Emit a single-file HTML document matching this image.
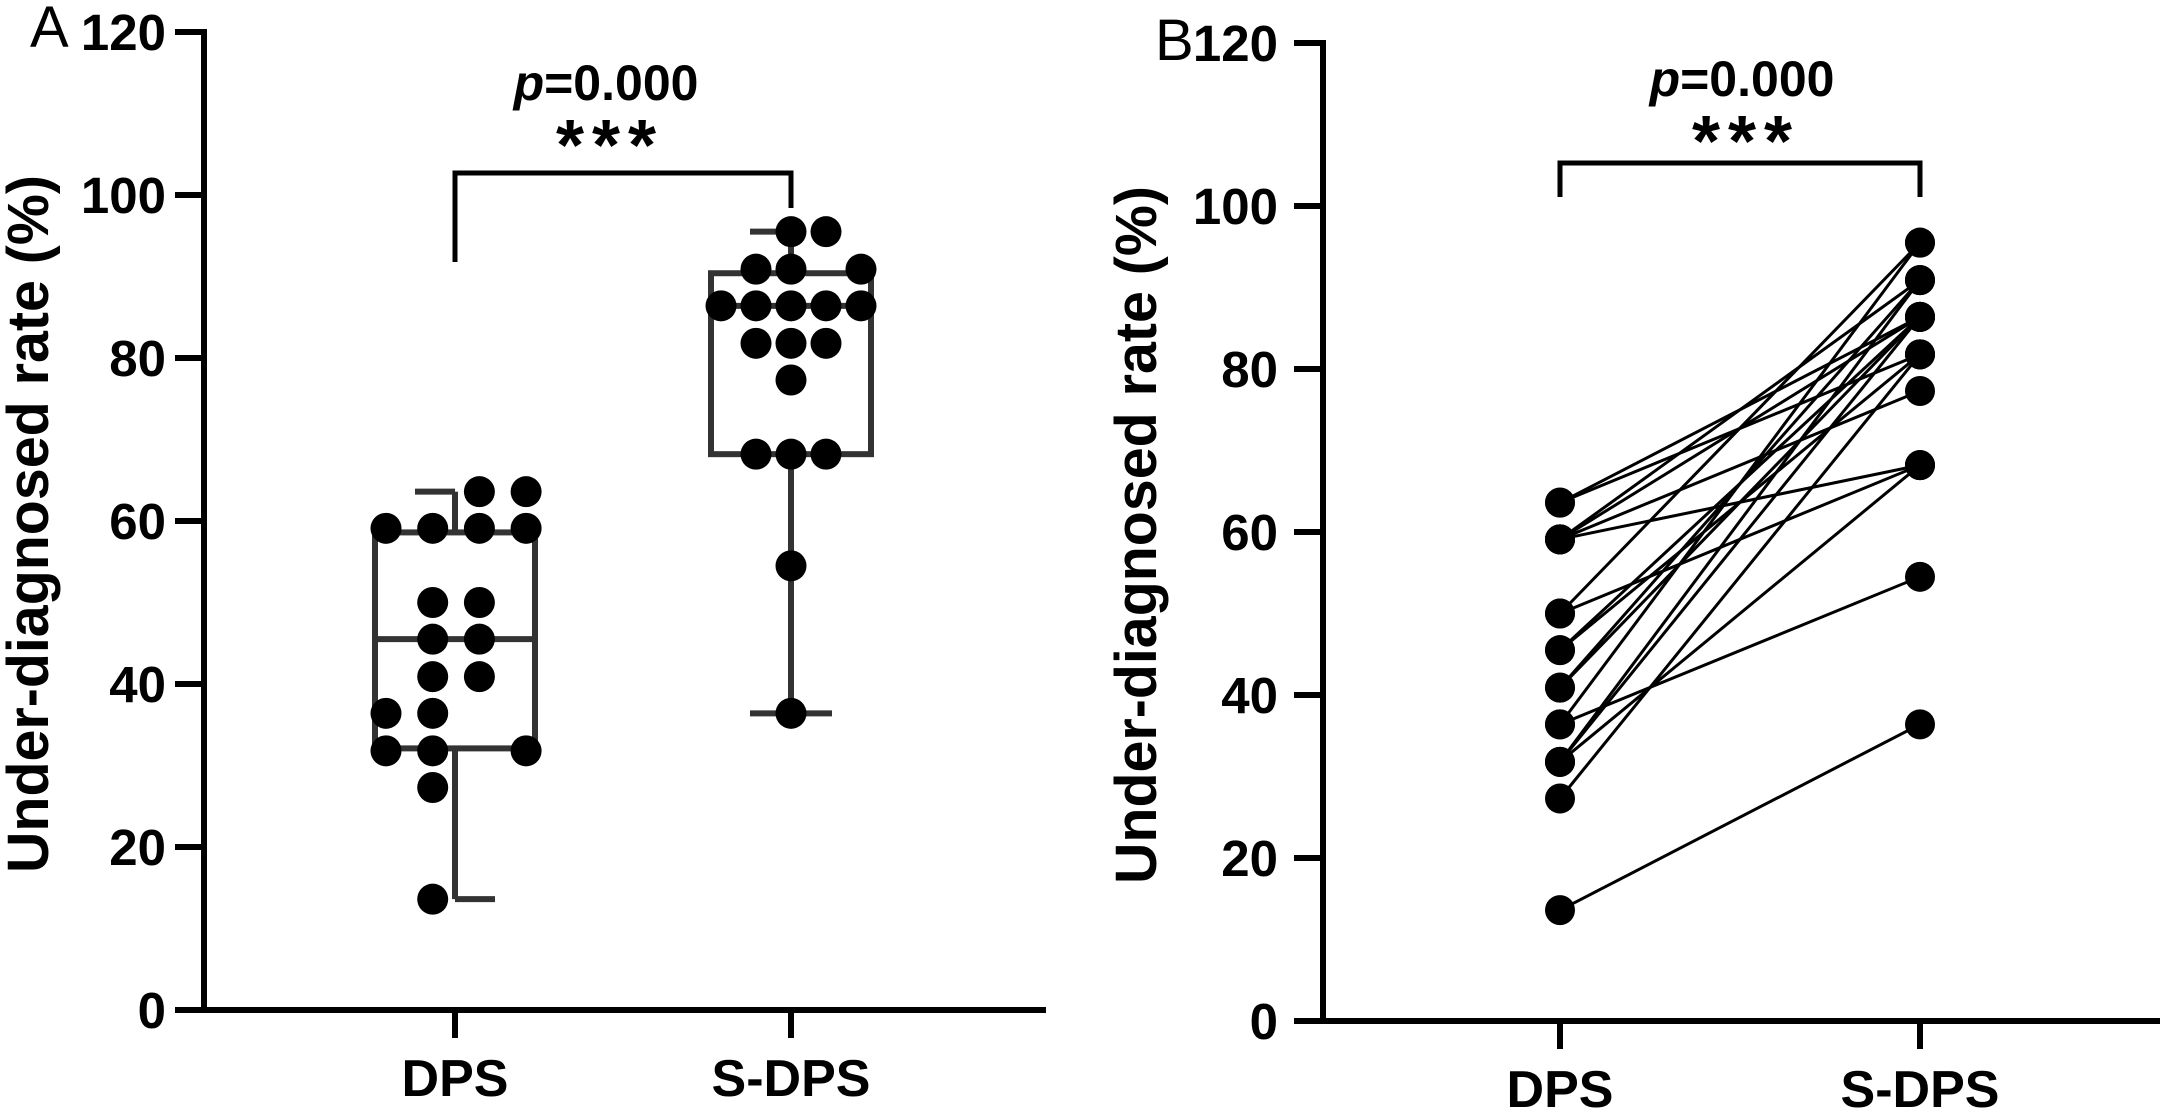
<!DOCTYPE html>
<html><head><meta charset="utf-8"><style>
html,body{margin:0;padding:0;background:#fff;}
svg{display:block;font-family:"Liberation Sans","Noto Sans CJK SC",sans-serif;}
</style></head><body>
<svg id="fig" width="2167" height="1110" viewBox="0 0 2167 1110" xmlns="http://www.w3.org/2000/svg">
<g id="pa"></g>
<g id="pb"></g>
</svg>
<script>
// ---- data ----
const categories = ["DPS", "S-DPS"];
const yTicks = [0, 20, 40, 60, 80, 100, 120];
const dpsValues = [63.6,63.6,59.1,59.1,59.1,59.1,50,50,45.5,45.5,40.9,40.9,36.4,36.4,31.8,31.8,31.8,27.3,13.6];
const sdpsValues = [95.5,95.5,90.9,90.9,90.9,86.4,86.4,86.4,86.4,86.4,81.8,81.8,81.8,77.3,68.2,68.2,68.2,54.5,36.4];
const dpsBox = [13.6, 32.1, 45.5, 58.6, 63.6];   // min, q1, median, q3, max
const sdpsBox = [36.4, 68.2, 86.4, 90.4, 95.5];
const pairDps  = [63.6,63.6,59.1,59.1,59.1,59.1,50,50,45.5,45.5,40.9,40.9,36.4,36.4,31.8,31.8,31.8,27.3,13.6];
const pairSdps = [86.4,81.8,68.2,90.9,86.4,77.3,95.5,68.2,86.4,81.8,90.9,86.4,54.5,95.5,90.9,68.2,86.4,81.8,36.4];
const pText = "p";
const pValue = "=0.000";
const sigStars = "***";

// ---- layout (not data) ----
const dpsCol  = [2,3,0,1,2,3,1,2,1,2,1,2,0,1,0,1,3,1,1];
const sdpsCol = [2,3,1,2,4,0,1,2,3,4,1,2,3,2,1,2,3,2,2];

const NS = "http://www.w3.org/2000/svg";
function el(parent, tag, attrs, text){
  const e = document.createElementNS(NS, tag);
  for (const k in attrs) e.setAttribute(k, attrs[k]);
  if (text !== undefined) e.textContent = text;
  parent.appendChild(e);
  return e;
}

function drawAxes(g, ax){
  const yAxis = el(g, "line", {x1:ax.x0, y1:ax.y(120)-3, x2:ax.x0, y2:ax.y(0)+3, stroke:"#000","stroke-width":6});
  
  
  const xAxis = el(g, "line", {x1:ax.x0-29, y1:ax.y(0), x2:ax.xEnd, y2:ax.y(0), stroke:"#000","stroke-width":6});
  
  
  yTicks.forEach(t=>{
    const y = ax.y(t);
    const tk = el(g, "line", {x1:ax.x0-29, y1:y, x2:ax.x0, y2:y, stroke:"#000","stroke-width":6});
    
    
    const lb = el(g, "text", {x:ax.labelX, y:y+18, "text-anchor":"end","font-size":51,"font-weight":"bold"}, String(t));
    
    
  });
  categories.forEach((c,i)=>{
    const x = ax.cx[i];
    const tk = el(g, "line", {x1:x, y1:ax.y(0), x2:x, y2:ax.y(0)+28, stroke:"#000","stroke-width":6});
    
    
    const lb = el(g, "text", {x:x, y:ax.catY, "text-anchor":"middle","font-size":52,"font-weight":"bold"}, c);
    
    
  });
  const cy = ax.titleCy;
  const tt = el(g, "text", {x:0, y:0, transform:`translate(${ax.titleX},${cy}) rotate(-90)`, "text-anchor":"middle","font-size":58,"font-weight":"bold", textLength:698, lengthAdjust:"spacingAndGlyphs"}, "Under-diagnosed rate (%)");
  
  
  const pl = el(g, "text", {x:ax.panelX, y:ax.panelY, "font-size":58}, ax.panel);
  
  
  const br = el(g, "path", {d:`M${ax.cx[0]},${ax.brL} V${ax.brTop} H${ax.cx[1]} V${ax.brR}`, fill:"none", stroke:"#000","stroke-width":5});
  
  
  const mid = ax.pMid;
  const pt = el(g, "text", {x:mid, y:ax.pY, "text-anchor":"middle","font-size":50,"font-weight":"bold"});
  
  
  el(pt, "tspan", {"font-style":"italic"}, pText);
  el(pt, "tspan", {}, pValue);
  const st = el(g, "text", {x:mid+4, y:ax.pY+70, "text-anchor":"middle","font-size":72,"font-weight":"bold","letter-spacing":8}, sigStars);
  
  
}

// ---- Panel A ----
const ga = document.getElementById("pa");
const axA = {x0:204, xEnd:1046, y:v=>1010 - v*8.15, cx:[455,791], labelX:166, catY:1096,
  titleX:48, titleCy:524, panel:"A", panelX:30, panelY:47,
  brL:262, brTop:173, brR:208, pMid:606, pY:100};
drawAxes(ga, axA);

function drawBox(g, box, cx, half, capTop, capBot, name){
  const y = axA.y;
  const s = {stroke:"#333","stroke-width":6,fill:"none"};
  const w1 = el(g,"line",Object.assign({x1:cx,y1:y(box[4]),x2:cx,y2:y(box[3])},s));
  
  
  const w2 = el(g,"line",Object.assign({x1:cx,y1:y(box[1]),x2:cx,y2:y(box[0])},s));
  
  
  const c1 = el(g,"line",Object.assign({x1:cx+capTop[0],y1:y(box[4]),x2:cx+capTop[1],y2:y(box[4])},s));
  
  
  const c2 = el(g,"line",Object.assign({x1:cx+capBot[0],y1:y(box[0]),x2:cx+capBot[1],y2:y(box[0])},s));
  
  
  const r = el(g,"rect",Object.assign({x:cx-half,y:y(box[3]),width:half*2,height:y(box[1])-y(box[3])},s));
  
  
  const m = el(g,"line",Object.assign({x1:cx-half,y1:y(box[2]),x2:cx+half,y2:y(box[2])},s));
  
  
}
drawBox(ga, dpsBox, 455, 80, [-40,0], [0,40], "dps");
drawBox(ga, sdpsBox, 791, 80, [-41,0], [-41,41], "sdps");

dpsValues.forEach((v,i)=>{
  const c = el(ga,"circle",{cx:386+dpsCol[i]*46.7, cy:axA.y(v), r:15.5, fill:"#000"});
  
  
});
sdpsValues.forEach((v,i)=>{
  const c = el(ga,"circle",{cx:721+sdpsCol[i]*35, cy:axA.y(v), r:15.5, fill:"#000"});
  
  
});

// ---- Panel B ----
const gb = document.getElementById("pb");
const axB = {x0:1323, xEnd:2160, y:v=>1021 - v*8.15, cx:[1560,1920], labelX:1278, catY:1107,
  titleX:1156, titleCy:535, panel:"B", panelX:1155, panelY:60,
  brL:197, brTop:163, brR:197, pMid:1742, pY:96};
drawAxes(gb, axB);
pairDps.forEach((v,i)=>{
  const l = el(gb,"line",{x1:1560,y1:axB.y(v),x2:1920,y2:axB.y(pairSdps[i]),stroke:"#000","stroke-width":3});
  
  
});
pairDps.forEach(v=>{
  const c = el(gb,"circle",{cx:1560, cy:axB.y(v), r:15, fill:"#000"});
  
  
});
pairSdps.forEach(v=>{
  const c = el(gb,"circle",{cx:1920, cy:axB.y(v), r:15, fill:"#000"});
  
  
});
</script>
</body></html>
